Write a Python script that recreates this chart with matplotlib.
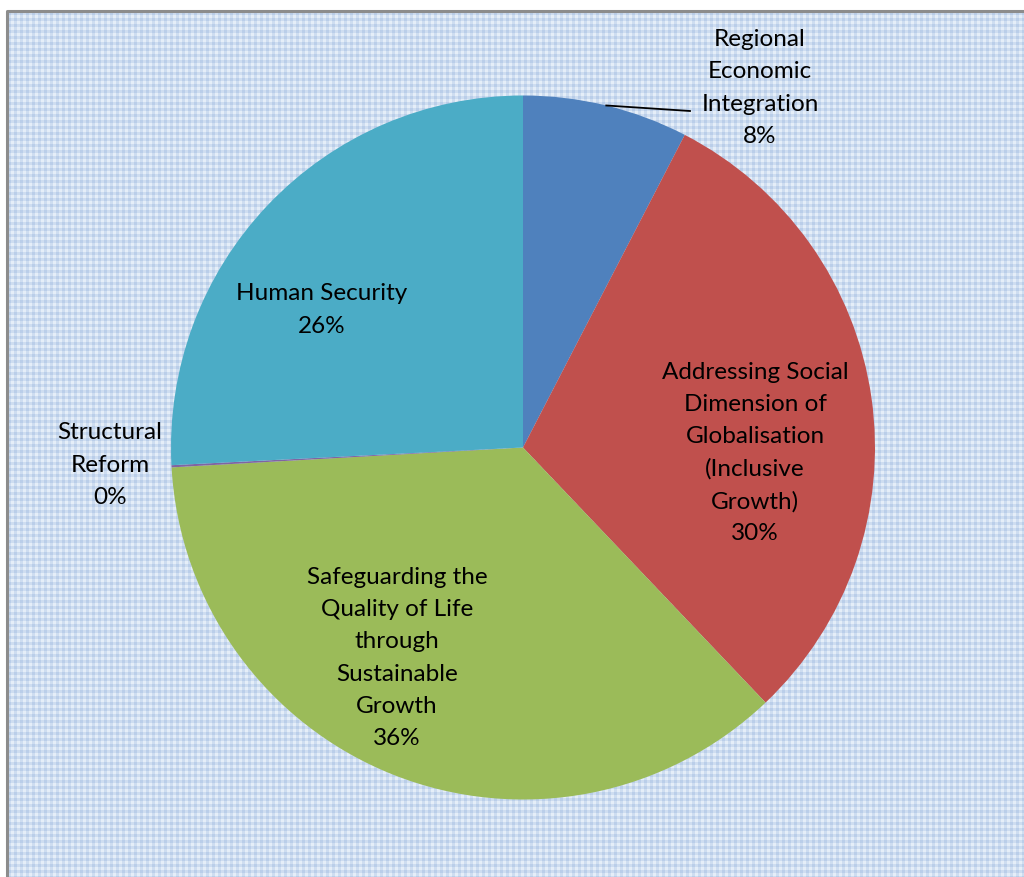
import numpy as np
import matplotlib
matplotlib.use("Agg")
import matplotlib.pyplot as plt

categories = ["Regional\nEconomic\nIntegration",
              "Addressing Social\nDimension of\nGlobalisation\n(Inclusive\nGrowth)",
              "Safeguarding the\nQuality of Life\nthrough\nSustainable\nGrowth",
              "Structural\nReform",
              "Human Security"]
values = [7.6, 30.3, 36.2, 0.1, 25.8]
colors = ["#4F81BD", "#C0504D", "#9BBB59", "#8064A2", "#4BACC6"]

W, H = 1024, 877
fig = plt.figure(figsize=(W / 100, H / 100), dpi=100)
fig.patch.set_facecolor("white")
ax = fig.add_axes([0, 0, 1, 1])

# gingham background
px0, py0 = 8, 12
pw, ph = W - px0, H - py0
xx = np.arange(pw)
yy = np.arange(ph)
cx = ((xx % 6) < 3).astype(float)
cy = ((yy % 6) < 3).astype(float)
lvl = cy[:, None] + cx[None, :]
c0 = np.array([0.90, 0.935, 0.975])
c1 = np.array([0.81, 0.87, 0.945])
c2 = np.array([0.73, 0.81, 0.915])
img = np.where(lvl[..., None] == 0, c0, np.where(lvl[..., None] == 1, c1, c2))
ax.imshow(img, extent=(px0, W, 0, H - py0), origin="upper", interpolation="nearest", zorder=0)
# border
ax.plot([px0 - 1, px0 - 1, W], [0, H - py0 + 1, H - py0 + 1], color="#8c8c8c", lw=2.2, zorder=1,
        solid_capstyle="butt")

cxp, cyp, R = 523, H - 447.5, 352
wedges, _ = ax.pie(values, colors=colors, startangle=90, counterclock=False,
                   center=(cxp, cyp), radius=R, frame=True,
                   wedgeprops=dict(linewidth=0.6, edgecolor="none"))
ax.set_xlim(0, W)
ax.set_ylim(0, H)
ax.set_aspect("equal")
ax.axis("off")

font = dict(family=["Lato", "DejaVu Sans"], fontsize=17.5, color="black",
            ha="center", va="center", linespacing=1.65)

labels = [f"{c}\n{v:.0f}%" for c, v in zip(categories, values)]

label_pos = [(760, 88), (755, 453), (397, 658), (110, 465), (322, 310)]
for i, w in enumerate(wedges):
    tx, ty = label_pos[i]
    ax.text(tx, H - ty, labels[i], zorder=5, **font)

# leader line for Regional Economic Integration
mid0 = np.deg2rad((wedges[0].theta1 + wedges[0].theta2) / 2)
ex, ey = cxp + R * np.cos(mid0), cyp + R * np.sin(mid0)
ax.plot([ex, 690], [ey, H - 111], color="black", lw=1.3, zorder=4)

fig.savefig("out.png", dpi=100)
